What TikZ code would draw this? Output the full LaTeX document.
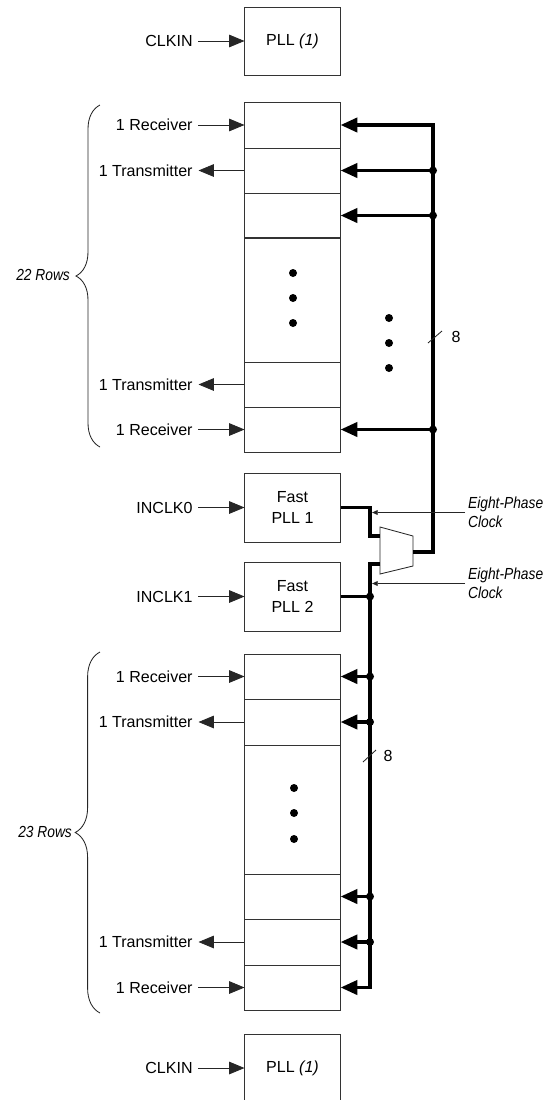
\documentclass[tikz,border=0pt]{standalone}
\usepackage{fontspec}
\setmainfont{Liberation Sans}
\newfontfamily\narrowsans{Liberation Sans}[FakeStretch=0.86]
\usetikzlibrary{arrows.meta,positioning,decorations.pathreplacing}

\tikzset{
  cell/.style={draw=black!80,line width=.7pt,minimum width=2.375cm,inner sep=0pt},
  sig/.style={line width=.6pt,draw=black!85},
  sigtip/.style={-{Triangle[length=11pt,width=9pt]}},
  smalltip/.style={-{Triangle[length=4pt,width=3.5pt]}},
  bus/.style={line width=2.7pt},
  bustip/.style={-{Triangle[length=12pt,width=10pt]}},
  lbl/.style={anchor=east,inner sep=4pt},
  note/.style={inner sep=2pt,font=\fontsize{11.4}{13.6}\selectfont\narrowsans\itshape}
}
\newcommand{\Junction}[1]{\fill (#1) circle (.1cm);}

\begin{document}
\begin{tikzpicture}[x=.025cm,y=-.025cm,font=\fontsize{11.4}{13.6}\selectfont]
\useasboundingbox (0,0) rectangle (545,1100);
% PLL on top
\node[cell,minimum height=1.7cm] (pllT) at (292.5,41) {PLL \textit{(1)}};
\node[lbl,left=1.15cm of pllT] (ckT) {CLKIN};
\draw[sig,sigtip] (ckT) -- (pllT);

% upper 22 rows
\node[cell,minimum height=1.15cm] (u1) at (292.5,125) {};
\node[cell,minimum height=1.125cm] (u2) at (292.5,170.5) {};
\node[cell,minimum height=1.125cm] (u3) at (292.5,215.5) {};
\node[cell,minimum height=3.1cm] (uD) at (292.5,300) {};
\node[cell,minimum height=1.125cm] (u4) at (292.5,384.5) {};
\node[cell,minimum height=1.125cm] (u5) at (292.5,429.5) {};
\foreach \y in {273,298,323} \fill (293,\y) circle (.1cm);
\node[lbl,left=1.15cm of u1] (rxU1) {1 Receiver};
\node[lbl,left=1.15cm of u2] (txU1) {1 Transmitter};
\node[lbl,left=1.15cm of u4] (txU2) {1 Transmitter};
\node[lbl,left=1.15cm of u5] (rxU2) {1 Receiver};
\draw[sig,sigtip] (rxU1) -- (u1);
\draw[sig,sigtip] (u2) -- (txU1);
\draw[sig,sigtip] (u4) -- (txU2);
\draw[sig,sigtip] (rxU2) -- (u5);
\draw[sig,decorate,decoration={brace,amplitude=.6cm}] (100,447) -- (100,105);
\node[note,anchor=east] (rows22) at (73,275) {22 Rows};

% fast PLLs
\node[cell,minimum height=1.725cm,align=center,font=\fontsize{11.4}{14.8}\selectfont] (fp1) at (292.5,507.5) {Fast\\PLL 1};
\node[cell,minimum height=1.725cm,align=center,font=\fontsize{11.4}{14.8}\selectfont] (fp2) at (292.5,596.5) {Fast\\PLL 2};
\node[lbl,left=1.15cm of fp1] (in0) {INCLK0};
\node[lbl,left=1.15cm of fp2] (in1) {INCLK1};
\draw[sig,sigtip] (in0) -- (fp1);
\draw[sig,sigtip] (in1) -- (fp2);

% clock select
\draw[sig,fill=white] (380,527) -- (413,536) -- (413,566) -- (380,574) -- cycle;
\coordinate (muxA) at (380,536);
\coordinate (muxB) at (380,564);
\coordinate (muxO) at (413,552);
\coordinate (kA) at (370,536);
\coordinate (lbus) at (370,564);
\coordinate (ubus) at (433,125);
\draw[bus] (fp1.east) -| (kA) -- (muxA);
\draw[bus] (fp2.east) -- (lbus |- fp2.east);
\Junction{lbus |- fp2.east}

% upper bus
\draw[bus,bustip] (muxO) -| (ubus) -- (u1.east);
\foreach \r in {u2,u3,u5}{
  \draw[bus,bustip] (ubus |- \r.east) -- (\r.east);
  \Junction{ubus |- \r.east}
}
\foreach \y in {318,343,368} \fill (389,\y) circle (.1cm);
\draw[sig] (428,343) -- (442,331);
\node (w8u) at (456,337) {8};

% eight-phase clocks
\node[note,anchor=west,align=left] (ep1) at (465,512.5) {Eight-Phase\\Clock};
\node[note,anchor=west,align=left] (ep2) at (465,583.5) {Eight-Phase\\Clock};
\draw[sig,smalltip] (ep1.west) -- ([xshift=1.5pt]kA |- ep1.west);
\draw[sig,smalltip] (ep2.west) -- ([xshift=1.5pt]lbus |- ep2.west);

% lower 23 rows
\node[cell,minimum height=1.125cm] (l1) at (292.5,676.5) {};
\node[cell,minimum height=1.15cm] (l2) at (292.5,722) {};
\node[cell,minimum height=3.225cm] (lD) at (292.5,809.5) {};
\node[cell,minimum height=1.125cm] (l3) at (292.5,896.5) {};
\node[cell,minimum height=1.15cm] (l4) at (292.5,942) {};
\node[cell,minimum height=1.125cm] (l5) at (292.5,987.5) {};
\foreach \y in {788,813,839} \fill (294,\y) circle (.1cm);
\node[lbl,left=1.15cm of l1] (rxL1) {1 Receiver};
\node[lbl,left=1.15cm of l2] (txL1) {1 Transmitter};
\node[lbl,left=1.15cm of l4] (txL2) {1 Transmitter};
\node[lbl,left=1.15cm of l5] (rxL2) {1 Receiver};
\draw[sig,sigtip] (rxL1) -- (l1);
\draw[sig,sigtip] (l2) -- (txL1);
\draw[sig,sigtip] (l4) -- (txL2);
\draw[sig,sigtip] (rxL2) -- (l5);
\draw[sig,decorate,decoration={brace,amplitude=.62cm}] (100,1013) -- (100,652);
\node[note,anchor=east] (rows23) at (75,832) {23 Rows};

% lower bus
\draw[bus,bustip] (muxB) -- (lbus) |- (l5.east);
\foreach \r in {l1,l2,l3,l4}{
  \draw[bus,bustip] (lbus |- \r.east) -- (\r.east);
  \Junction{lbus |- \r.east}
}
\draw[sig] (363,762) -- (376,750);
\node (w8l) at (388,756) {8};

% PLL at bottom
\node[cell,minimum height=1.7cm] (pllB) at (292.5,1068) {PLL \textit{(1)}};
\node[lbl,left=1.15cm of pllB] (ckB) {CLKIN};
\draw[sig,sigtip] (ckB) -- (pllB);
\end{tikzpicture}
\end{document}
